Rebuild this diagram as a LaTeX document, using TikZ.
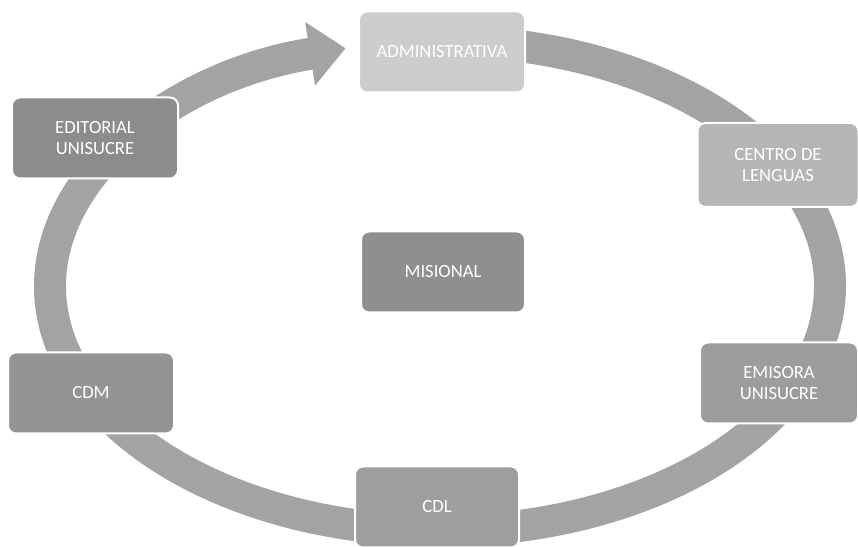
\documentclass[tikz,border=0pt]{standalone}
\usepackage{fontspec}
\setmainfont{Carlito}
\usetikzlibrary{arrows.meta}
\newlength{\du}
\setlength{\du}{0.2mm}
\begin{document}
\begin{tikzpicture}
\definecolor{ringcolor}{rgb}{0.640000, 0.640000, 0.640000}
\definecolor{admincolor}{rgb}{0.800000, 0.800000, 0.800000}
\definecolor{centrocolor}{rgb}{0.710000, 0.710000, 0.710000}
\definecolor{emisoracolor}{rgb}{0.610000, 0.610000, 0.610000}
\definecolor{cdlcolor}{rgb}{0.620000, 0.620000, 0.620000}
\definecolor{cdmcolor}{rgb}{0.580000, 0.580000, 0.580000}
\definecolor{editorialcolor}{rgb}{0.550000, 0.550000, 0.550000}
\definecolor{misionalcolor}{rgb}{0.560000, 0.560000, 0.560000}
\tikzset{unidad/.style={rectangle, rounded corners=8\du, draw=white, line width=2\du,
  minimum width=166\du, minimum height=81\du, inner sep=0pt, align=center,
  text=white, font=\fontsize{10.6}{12.4}\selectfont}}
\useasboundingbox (0\du,0\du) rectangle (858\du,546\du);
% ring, starts under ADMINISTRATIVA (85 deg)
\coordinate (inicio) at (474.0\du,504.1\du);
\draw[ringcolor, line width=32\du, -{Triangle[width=12.4mm, length=7.2mm]}]
  (inicio) arc[start angle=85, end angle=-256, x radius=390\du, y radius=245\du];
% boxes
\node[unidad, fill=admincolor] (admin) at (442\du,494\du){ADMINISTRATIVA};
\node[unidad, fill=centrocolor, minimum width=161\du, minimum height=84\du] (centro) at (778\du,381\du){CENTRO DE\\LENGUAS};
\node[unidad, fill=emisoracolor, minimum width=158\du] (emisora) at (779\du,163\du){EMISORA\\UNISUCRE};
\node[unidad, fill=cdlcolor, minimum width=164\du] (cdl) at (437\du,39\du){CDL};
\node[unidad, fill=cdmcolor] (cdm) at (91\du,153\du){CDM};
\node[unidad, fill=editorialcolor] (editorial) at (95\du,408\du){EDITORIAL\\UNISUCRE};
\node[unidad, fill=misionalcolor, minimum width=164\du] (misional) at (443\du,274\du){MISIONAL};
\end{tikzpicture}
\end{document}
